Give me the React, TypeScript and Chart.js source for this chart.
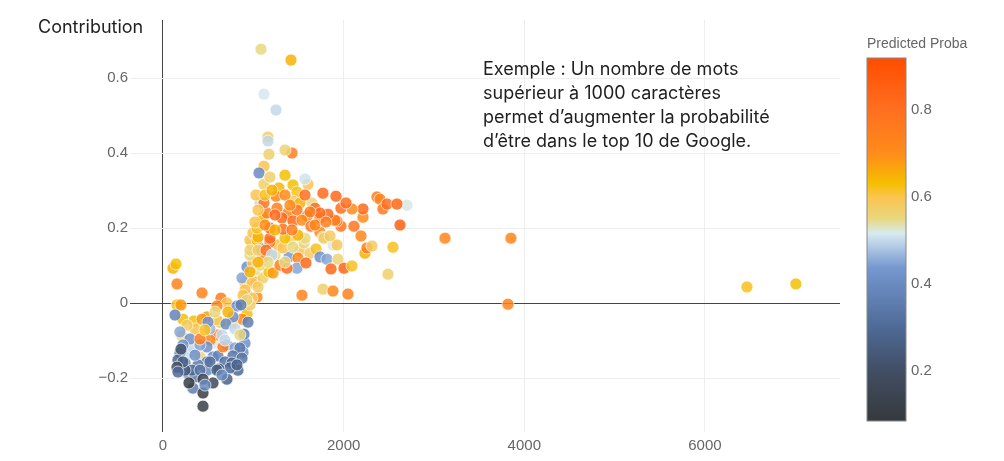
import React, { useEffect, useRef } from "react";
import { Chart, registerables } from "chart.js";

Chart.register(...registerables);

const wordCount = [
  432, 155, 199, 221, 343, 642, 708, 598, 487, 432,
  930, 875, 631, 598, 354, 764, 210, 587, 299, 410,
  332, 598, 520, 653, 819, 775, 697, 520, 498, 797,
  299, 908, 708, 487, 410, 221, 188, 554, 487, 886,
  797, 487, 609, 133, 852, 897, 387, 332, 244, 277,
  354, 775, 875, 686, 520, 764, 830, 742, 321, 410,
  819, 620, 166, 598, 244, 221, 708, 199, 155, 554,
  443, 288, 443, 443, 664, 410, 1041, 930, 985, 908,
  1030, 1107, 941, 875, 930, 996, 963, 1107, 1074, 1173,
  1218, 985, 963, 1018, 1074, 1240, 1273, 1406, 1517, 1627,
  963, 985, 908, 1052, 963, 886, 930, 1395, 1328, 1561,
  1439, 1494, 1483, 1295, 1373, 1583, 996, 1041, 1184, 1052,
  1041, 1184, 1351, 1572, 1107, 1151, 1074, 1118, 1118, 1284,
  1439, 1483, 1251, 1439, 1517, 1649, 1683, 1262, 1384, 1483,
  1317, 1439, 1594, 1539, 1184, 1328, 1638, 1494, 1738, 1738,
  1771, 1694, 1782, 1882, 1926, 1849, 1738, 1815, 1937, 2004,
  1860, 2092, 2491, 1771, 1882, 2048, 1539, 2236, 2258, 2314,
  2546, 2192, 2624, 1970, 2114, 1926, 1904, 1827, 1738, 2214,
  2214, 2092, 1970, 2026, 1915, 1771, 2369, 2402, 2435, 2701,
  2480, 2590, 3122, 3852, 3819, 6465, 7007, 111, 144, 155,
  1085, 1417, 1118, 1251, 1162, 1162, 1173, 1428, 1351, 1118,
  1063, 1184, 1351, 1605, 1572, 1030, 1052, 1018, 1129, 1207,
  1351, 1406, 1572, 1627, 1240, 1129, 1240, 1428, 1683, 1804,
  1052, 1140, 1207, 1162, 1351, 1052, 963, 863, 941, 576,
  720, 465, 266, 188, 852, 686, 166, 465, 653, 354,
];

const contribution = [
  0.027, -0.005, -0.005, -0.043, -0.048, 0.013, 0, -0.008, -0.037, -0.043,
  -0.029, -0.043, -0.051, -0.045, -0.069, -0.053, -0.088, -0.107, -0.133, -0.144,
  -0.12, -0.085, -0.099, -0.085, -0.008, -0.037, -0.056, -0.069, -0.051, -0.069,
  -0.096, -0.107, -0.112, -0.117, -0.112, -0.112, -0.133, -0.144, -0.157, -0.131,
  -0.12, -0.179, -0.141, -0.032, -0.12, -0.083, -0.165, -0.227, -0.16, -0.187,
  -0.197, -0.141, -0.147, -0.157, -0.157, -0.16, -0.179, -0.173, -0.179, -0.179,
  -0.165, -0.176, -0.152, -0.179, -0.179, -0.157, -0.203, -0.123, -0.171, -0.213,
  -0.203, -0.213, -0.24, -0.275, -0.117, -0.096, 0.016, 0.021, 0.013, 0.053,
  0.056, 0.067, 0.075, 0.067, 0.096, 0.107, 0.128, 0.123, 0.147, 0.083,
  0.08, 0.155, 0.168, 0.088, 0.101, 0.128, 0.155, 0.168, 0.141, 0.133,
  0.141, 0.053, 0.035, 0.043, -0.005, 0.021, 0.008, 0.123, 0.147, 0.16,
  0.149, 0.12, 0.093, 0.101, 0.093, 0.107, 0.187, 0.168, 0.163, 0.176,
  0.2, 0.173, 0.173, 0.173, 0.229, 0.24, 0.267, 0.267, 0.317, 0.307,
  0.315, 0.296, 0.285, 0.272, 0.267, 0.267, 0.253, 0.253, 0.24, 0.248,
  0.227, 0.219, 0.232, 0.221, 0.2, 0.197, 0.205, 0.181, 0.227, 0.189,
  0.176, 0.144, 0.173, 0.155, 0.155, 0.179, 0.123, 0.117, 0.117, 0.093,
  0.091, 0.099, 0.077, 0.037, 0.032, 0.024, 0.021, 0.133, 0.147, 0.152,
  0.149, 0.179, 0.208, 0.205, 0.205, 0.219, 0.221, 0.237, 0.24, 0.229,
  0.251, 0.251, 0.253, 0.267, 0.285, 0.293, 0.283, 0.277, 0.251, 0.261,
  0.264, 0.264, 0.173, 0.173, -0.003, 0.043, 0.051, 0.093, 0.104, 0.051,
  0.677, 0.648, 0.557, 0.515, 0.443, 0.432, 0.397, 0.4, 0.408, 0.365,
  0.347, 0.336, 0.341, 0.317, 0.331, 0.288, 0.248, 0.216, 0.288, 0.301,
  0.288, 0.261, 0.288, 0.243, 0.235, 0.208, 0.195, 0.195, 0.208, 0.216,
  0.141, 0.141, 0.128, 0.109, 0.109, 0.109, 0.083, -0.005, -0.051, -0.024,
  -0.024, -0.072, -0.059, -0.077, -0.085, -0.099, -0.184, -0.219, -0.192, -0.139,
];

const predictedProba = [
  0.73, 0.62, 0.68, 0.63, 0.63, 0.76, 0.6, 0.72, 0.68, 0.68,
  0.63, 0.72, 0.62, 0.58, 0.6, 0.58, 0.56, 0.52, 0.5, 0.56,
  0.5, 0.72, 0.72, 0.5, 0.42, 0.42, 0.4, 0.47, 0.42, 0.5,
  0.42, 0.42, 0.42, 0.42, 0.45, 0.42, 0.4, 0.4, 0.38, 0.42,
  0.45, 0.4, 0.38, 0.38, 0.35, 0.37, 0.36, 0.36, 0.35, 0.35,
  0.35, 0.33, 0.33, 0.32, 0.32, 0.3, 0.3, 0.3, 0.3, 0.33,
  0.28, 0.28, 0.28, 0.25, 0.25, 0.27, 0.27, 0.22, 0.2, 0.17,
  0.14, 0.1, 0.1, 0.12, 0.76, 0.76, 0.7, 0.72, 0.58, 0.58,
  0.68, 0.57, 0.5, 0.45, 0.42, 0.6, 0.55, 0.72, 0.45, 0.63,
  0.68, 0.6, 0.6, 0.55, 0.55, 0.55, 0.6, 0.58, 0.6, 0.58,
  0.56, 0.6, 0.6, 0.58, 0.58, 0.6, 0.56, 0.44, 0.6, 0.55,
  0.55, 0.72, 0.45, 0.75, 0.82, 0.82, 0.6, 0.62, 0.78, 0.65,
  0.62, 0.8, 0.63, 0.55, 0.65, 0.75, 0.5, 0.78, 0.57, 0.64,
  0.63, 0.62, 0.72, 0.58, 0.65, 0.55, 0.8, 0.75, 0.72, 0.78,
  0.82, 0.82, 0.76, 0.7, 0.85, 0.8, 0.78, 0.65, 0.78, 0.72,
  0.57, 0.62, 0.57, 0.52, 0.59, 0.58, 0.42, 0.45, 0.56, 0.84,
  0.83, 0.62, 0.57, 0.57, 0.72, 0.74, 0.72, 0.65, 0.76, 0.58,
  0.62, 0.72, 0.85, 0.78, 0.78, 0.75, 0.74, 0.82, 0.8, 0.7,
  0.82, 0.7, 0.8, 0.8, 0.82, 0.82, 0.75, 0.72, 0.77, 0.52,
  0.8, 0.83, 0.72, 0.72, 0.73, 0.62, 0.63, 0.65, 0.63, 0.73,
  0.55, 0.65, 0.515, 0.5, 0.57, 0.5, 0.57, 0.75, 0.56, 0.6,
  0.4, 0.57, 0.63, 0.6, 0.51, 0.6, 0.6, 0.6, 0.62, 0.65,
  0.7, 0.7, 0.8, 0.75, 0.8, 0.7, 0.65, 0.75, 0.72, 0.75,
  0.58, 0.8, 0.5, 0.55, 0.55, 0.65, 0.65, 0.36, 0.36, 0.55,
  0.65, 0.62, 0.58, 0.45, 0.55, 0.5, 0.3, 0.4, 0.4, 0.42,
];

const xTicks = [0, 2000, 4000, 6000];
const yTicks = [-0.2, 0, 0.2, 0.4, 0.6];
const probaTicks = [0.2, 0.4, 0.6, 0.8];
const yTitle = "Contribution";
const barTitle = "Predicted Proba";
const noteLines = [
  "Exemple : Un nombre de mots",
  "supérieur à 1000 caractères",
  "permet d’augmenter la probabilité",
  "d’être dans le top 10 de Google.",
];

const colorStops: [number, number[]][] = [
  [0.085, [54, 58, 61]],
  [0.2, [65, 78, 99]],
  [0.3, [78, 106, 150]],
  [0.437, [117, 151, 208]],
  [0.517, [216, 234, 240]],
  [0.55, [232, 216, 128]],
  [0.6, [252, 195, 80]],
  [0.632, [245, 191, 0]],
  [0.7, [255, 140, 26]],
  [0.8, [255, 111, 32]],
  [0.92, [255, 77, 0]],
];

function probaColor(p: number, alpha: number) {
  let i = 0;
  while (i < colorStops.length - 2 && p > colorStops[i + 1][0]) i++;
  const [a, ca] = colorStops[i];
  const [b, cb] = colorStops[i + 1];
  const t = Math.min(1, Math.max(0, (p - a) / (b - a)));
  const c = ca.map((v, k) => Math.round(v + (cb[k] - v) * t));
  return `rgba(${c[0]},${c[1]},${c[2]},${alpha})`;
}

const TICK = "#666666";
const TICK_FONT = { family: "'Liberation Sans', Arial, sans-serif", size: 15 };

const overlay = {
  id: "overlay",
  afterLayout(chart: any) {
    const s = chart.scales.cb;
    s.top = 58;
    s.bottom = 421;
    s.left = 906;
    s.right = 1004;
    s.height = 363;
    s.width = 98;
    s.configure();
  },
  afterDraw(chart: any) {
    const { ctx, scales } = chart;
    const s = scales.cb;
    const top = s.getPixelForValue(s.max);
    const bottom = s.getPixelForValue(s.min);
    const g = ctx.createLinearGradient(0, bottom, 0, top);
    for (const [p, c] of colorStops) {
      g.addColorStop((p - s.min) / (s.max - s.min), `rgb(${c[0]},${c[1]},${c[2]})`);
    }
    ctx.save();
    ctx.fillStyle = g;
    ctx.fillRect(867, top, 39, bottom - top);
    ctx.strokeStyle = "#888888";
    ctx.lineWidth = 1;
    ctx.strokeRect(867, top, 39, bottom - top);
    ctx.fillStyle = TICK;
    ctx.font = "14px 'Liberation Sans', Arial, sans-serif";
    ctx.textBaseline = "middle";
    ctx.fillText(barTitle, 867, 44);
    ctx.fillStyle = "#1f1f1f";
    ctx.font = "500 18px Inter, sans-serif";
    ctx.font = "18px Inter, sans-serif";
    ctx.fillText(yTitle, 38, 28);
    noteLines.forEach((line, i) => ctx.fillText(line, 483, 70 + i * 24));
    ctx.restore();
  },
};

export default function App() {
  const ref = useRef<HTMLCanvasElement>(null);
  useEffect(() => {
    document.body.style.margin = "0";
    const chart = new Chart(ref.current!, {
      type: "scatter",
      data: {
        datasets: [
          {
            data: wordCount.map((x, i) => ({ x, y: contribution[i] })),
            pointRadius: 6,
            pointBorderWidth: 1,
            pointBorderColor: "rgba(255,255,255,0.65)",
            pointBackgroundColor: (c: any) => probaColor(predictedProba[c.dataIndex] ?? 0.5, 0.85),
          },
        ],
      },
      options: {
        animation: false,
        responsive: false,
        layout: { padding: { top: 20 } },
        plugins: { legend: { display: false }, tooltip: { enabled: false } },
        scales: {
          x: {
            type: "linear",
            min: -365,
            max: 7495,
            afterFit: (s: any) => { s.height = 29; },
            afterBuildTicks: (s: any) => { s.ticks = xTicks.map((value) => ({ value })); },
            border: { display: false },
            grid: {
              drawTicks: false,
              color: (c: any) => (c.tick?.value === 0 ? "#444444" : "#eeeeee"),
            },
            ticks: { color: TICK, font: TICK_FONT, padding: 5, maxRotation: 0, callback: (v: any) => String(v) },
          },
          y: {
            type: "linear",
            min: -0.344,
            max: 0.755,
            afterFit: (s: any) => { s.width = 130; },
            afterBuildTicks: (s: any) => { s.ticks = yTicks.map((value) => ({ value })); },
            border: { display: false },
            grid: {
              drawTicks: false,
              color: (c: any) => (c.tick?.value === 0 ? "#444444" : "#eeeeee"),
            },
            ticks: {
              color: TICK,
              font: TICK_FONT,
              padding: 2,
              callback: (v: any) => (Number(v) < 0 ? "−" + Math.abs(Number(v)).toFixed(1) : Number(v) === 0 ? "0" : Number(v).toFixed(1)),
            },
          },
          cb: {
            type: "linear",
            position: "right",
            min: 0.085,
            max: 0.92,
            afterFit: (s: any) => { s.width = 164; },
            afterBuildTicks: (s: any) => { s.ticks = probaTicks.map((value) => ({ value })); },
            border: { display: false },
            grid: { display: false, drawTicks: false },
            ticks: { color: TICK, font: TICK_FONT, padding: 5, callback: (v: any) => Number(v).toFixed(1) },
          },
        },
      } as any,
      plugins: [overlay],
    });
    return () => chart.destroy();
  }, []);
  return <canvas ref={ref} width={1004} height={461} style={{ display: "block" }} />;
}
